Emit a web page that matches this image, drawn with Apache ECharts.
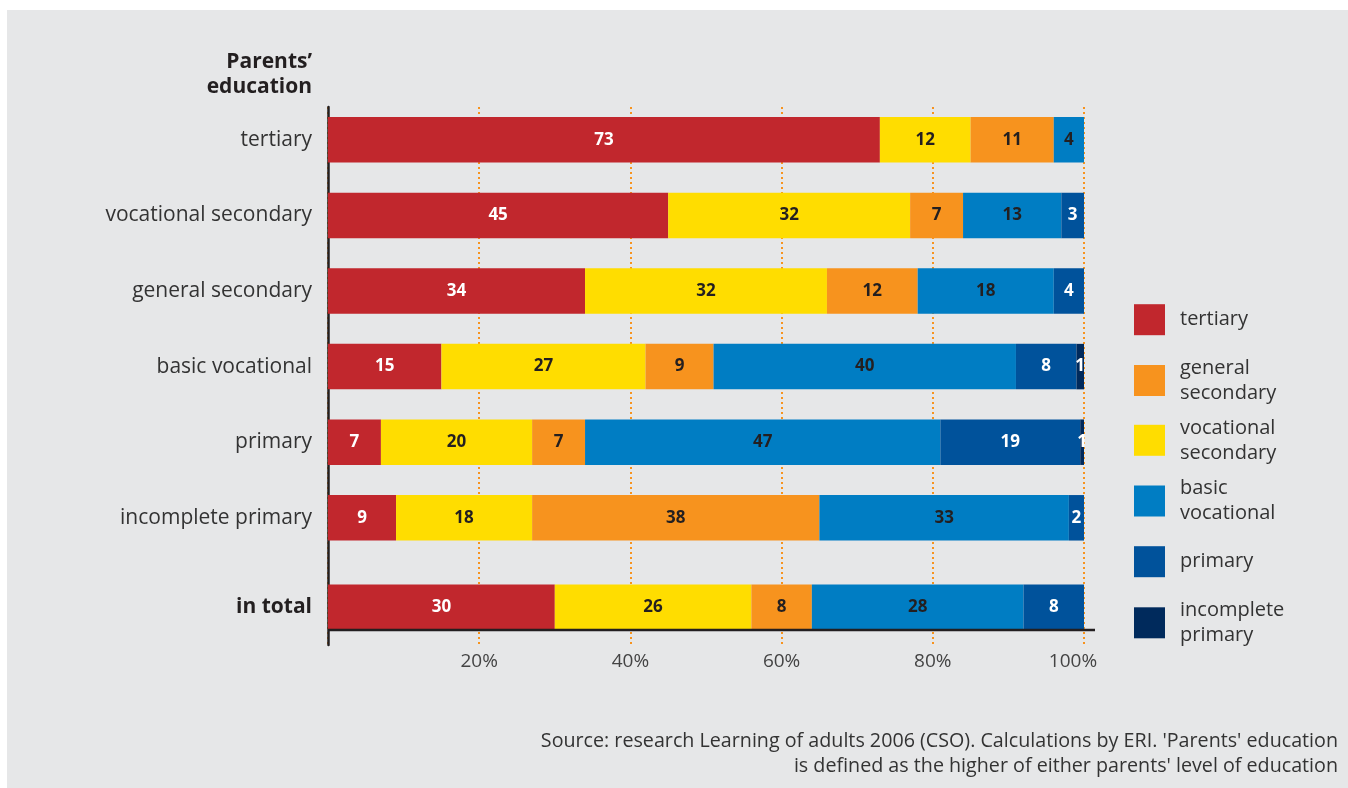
<!DOCTYPE html>
<html>
<head>
<meta charset="utf-8">
<script src="https://cdn.jsdelivr.net/npm/echarts@6/dist/echarts.min.js"></script>
<style>
  html, body { margin: 0; padding: 0; background: #ffffff; }
  #bg { position: absolute; left: 7px; top: 10px; width: 1341px; height: 778px; background: #e6e7e8; }
  #chart { position: absolute; left: 0; top: 0; width: 1348px; height: 788px; }
</style>
</head>
<body>
<div id="bg"></div>
<div id="chart"></div>
<script>
// ---- data ----
const categories = ['tertiary', 'vocational secondary', 'general secondary', 'basic vocational', 'primary', 'incomplete primary'];
const totalCategory = ['in total'];
const tertiary            = [73, 45, 34, 15, 7, 9];
const vocationalSecondary = [12, 32, 32, 27, 20, 18];
const generalSecondary    = [11, 7, 12, 9, 7, 38];
const basicVocational     = [4, 13, 18, 40, 47, 33];
const primary             = [0, 3, 4, 8, 18.5, 2];
const incompletePrimary   = [0, 0, 0, 1, 0.5, 0];
const totalValues = { tertiary: 30, vocationalSecondary: 26, generalSecondary: 8, basicVocational: 28, primary: 8, incompletePrimary: 0 };
const xTicks = [0, 20, 40, 60, 80, 100];
const legendOrder = ['tertiary', 'general secondary', 'vocational secondary', 'basic vocational', 'primary', 'incomplete primary'];

const FONT = 'Open Sans';
const seriesDefs = [
  { name: 'tertiary', data: tertiary, total: totalValues.tertiary, color: '#c1272d', label: '#ffffff' },
  { name: 'vocational secondary', data: vocationalSecondary, total: totalValues.vocationalSecondary, color: '#ffdd00', label: '#231f20' },
  { name: 'general secondary', data: generalSecondary, total: totalValues.generalSecondary, color: '#f7931e', label: '#231f20' },
  { name: 'basic vocational', data: basicVocational, total: totalValues.basicVocational, color: '#007dc3', label: '#231f20' },
  { name: 'primary', data: primary, total: totalValues.primary, color: '#00529b', label: '#ffffff' },
  { name: 'incomplete primary', data: incompletePrimary, total: totalValues.incompletePrimary, color: '#002a5c', label: '#ffffff' }
];

const series = [];
seriesDefs.forEach(d => {
  const common = {
    name: d.name,
    type: 'bar',
    barWidth: 45.5,
    itemStyle: { color: d.color },
    emphasis: { disabled: true },
    label: {
      show: true,
      position: 'inside',
      color: d.label,
      fontFamily: FONT,
      fontSize: 17,
      fontWeight: 'bold',
      formatter: p => (p.value > 0 ? String(Math.round(p.value)) : '')
    }
  };
  series.push(Object.assign({}, common, { xAxisIndex: 1, yAxisIndex: 1, stack: 'rows', data: d.data }));
  series.push(Object.assign({}, common, { xAxisIndex: 2, yAxisIndex: 2, stack: 'total', data: [d.total] }));
});

const legendCenters = [319.7, 380.5, 440.3, 501, 561.7, 622.8];
const legends = legendOrder.map((n, i) => {
  const twoLine = n.indexOf(' ') >= 0;
  return {
    data: [n],
    orient: 'vertical',
    left: 1134,
    top: legendCenters[i] - (twoLine ? 30 : 15.5),
    padding: 0,
    itemWidth: 31,
    itemHeight: 31,
    icon: 'rect',
    selectedMode: false,
    formatter: name => name.replace(' ', '\n'),
    textStyle: { fontFamily: FONT, fontSize: 20, color: '#333333', lineHeight: 25, padding: [0, 0, twoLine ? 10 : 2, 10] }
  };
});

const option = {
  backgroundColor: 'transparent',
  animation: false,
  title: [
    {
      text: 'Parents\u2019\neducation',
      left: 312,
      top: 50,
      padding: 0,
      textAlign: 'right',
      textStyle: { fontFamily: FONT, fontSize: 21, fontWeight: 'bold', color: '#231f20', lineHeight: 25 }
    },
    {
      text: "Source: research Learning of adults 2006 (CSO). Calculations by ERI. 'Parents' education\nis defined as the higher of either parents' level of education",
      left: 1338,
      top: 729,
      padding: 0,
      textAlign: 'right',
      textStyle: { fontFamily: FONT, fontSize: 19.7, fontWeight: 'normal', color: '#333333', lineHeight: 25 }
    }
  ],
  legend: legends,
  grid: [
    { left: 328, width: 756, top: 107, height: 538 },
    { left: 328, width: 756, top: 102, height: 453.6 },
    { left: 328, width: 756, top: 584.5, height: 45.5 }
  ],
  xAxis: [
    {
      gridIndex: 0, type: 'value', min: xTicks[0], max: xTicks[xTicks.length - 1], interval: 20,
      axisLine: { show: false }, axisTick: { show: false }, axisLabel: { show: false },
      splitLine: { show: true, lineStyle: { color: '#f7931e', type: [2, 3], width: 2 } }
    },
    {
      gridIndex: 1, type: 'value', min: 0, max: 100,
      axisLine: { show: false }, axisTick: { show: false }, axisLabel: { show: false }, splitLine: { show: false }
    },
    {
      gridIndex: 2, type: 'value', min: 0, max: 100, interval: 20,
      axisLine: { show: false }, axisTick: { show: false }, splitLine: { show: false },
      axisLabel: {
        margin: 22, fontFamily: FONT, fontSize: 19, color: '#444444',
        formatter: v => (v === 0 ? '' : v === 100 ? '{r|' + v + '%}' : v + '%'),
        rich: { r: { fontFamily: FONT, fontSize: 19, color: '#444444', padding: [0, 22, 0, 0] } }
      }
    }
  ],
  yAxis: [
    {
      gridIndex: 0, type: 'value',
      axisLine: { show: true, lineStyle: { color: '#231f20', width: 2.5 } },
      axisTick: { show: false }, axisLabel: { show: false }, splitLine: { show: false }
    },
    {
      gridIndex: 1, type: 'category', data: categories, inverse: true,
      axisLine: { show: false }, axisTick: { show: false },
      axisLabel: { margin: 16, fontFamily: FONT, fontSize: 21, color: '#333333' }
    },
    {
      gridIndex: 2, type: 'category', data: totalCategory,
      axisLine: { show: false }, axisTick: { show: false },
      axisLabel: { margin: 16, fontFamily: FONT, fontSize: 21, fontWeight: 'bold', color: '#231f20' }
    }
  ],
  graphic: [
    {
      type: 'line', z: 100,
      shape: { x1: 328, y1: 630, x2: 1095, y2: 630 },
      style: { stroke: '#231f20', lineWidth: 2.5 }
    }
  ],
  series: series
};

const chart = echarts.init(document.getElementById('chart'), null, { renderer: 'canvas' });
chart.setOption(option);
</script>
</body>
</html>
